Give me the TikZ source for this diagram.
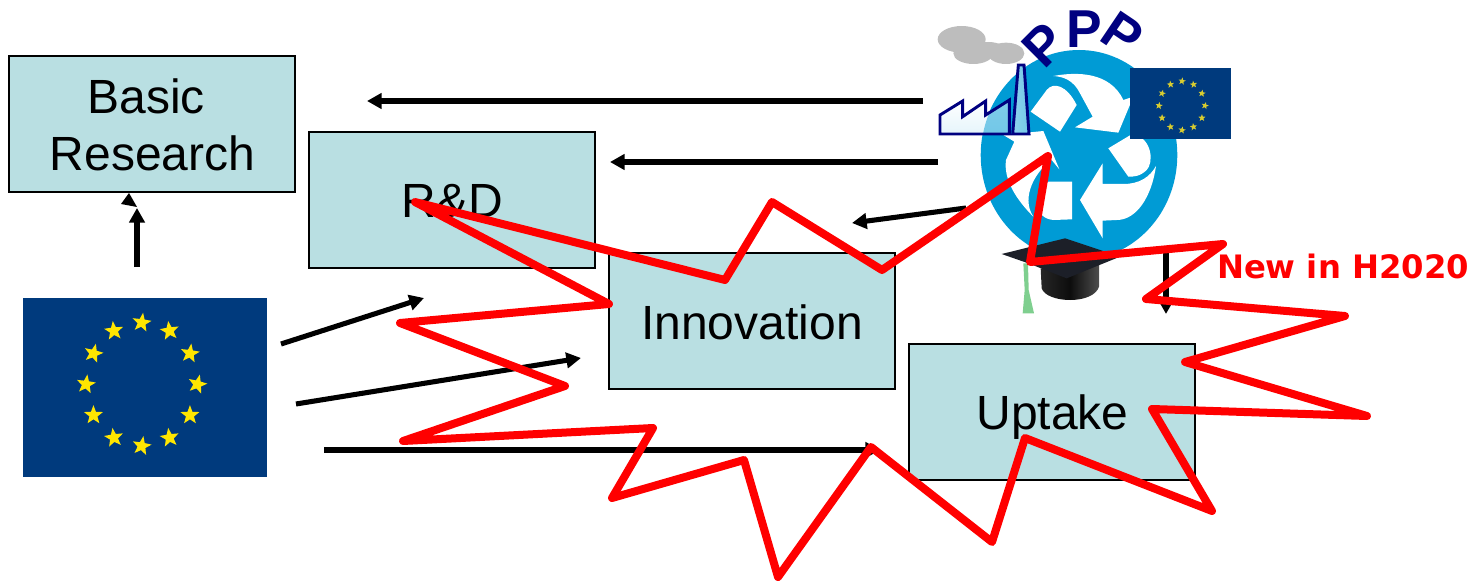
\documentclass[tikz,border=0pt]{standalone}
\usepackage{fontspec}
\setmainfont{Liberation Sans}
\newfontfamily\dejabold[Scale=1]{DejaVu Sans}
\usetikzlibrary{arrows.meta}
\definecolor{boxfill}{HTML}{B9DFE2}
\definecolor{eublue}{HTML}{003A7D}
\definecolor{eustar}{HTML}{FFE600}
\definecolor{eustardim}{HTML}{D8CC30}
\definecolor{recycle}{HTML}{009BD5}
\definecolor{pppnavy}{HTML}{000080}
\definecolor{cloudgrey}{HTML}{BDBDBD}
\definecolor{tassel}{HTML}{7FCF8F}
\definecolor{capdark}{HTML}{1C1F28}
\tikzset{
  x=0.75pt,y=-0.75pt,
  stagebox/.style={draw=black,line width=1.5pt,fill=boxfill,minimum width=214.5pt,minimum height=102pt,inner sep=0pt},
  stagetext/.style={anchor=base,inner sep=0pt,font=\fontsize{36}{36}\selectfont},
  flow/.style={line width=3.8pt,-{Triangle[length=11pt,width=11.5pt]}},
  starburst/.style={draw=red,line width=6pt,line join=round,line cap=round},
  pppletter/.style={text=pppnavy,inner sep=0pt,font=\fontsize{40}{40}\selectfont\bfseries},
}
\newcommand{\eustarat}[5]{% x y radius rotation colour
  \fill[#5] ({#1+#3*sin(#4)},{#2-#3*cos(#4)})
   -- ({#1+0.42*#3*sin(#4+36)},{#2-0.42*#3*cos(#4+36)})
   -- ({#1+#3*sin(#4+72)},{#2-#3*cos(#4+72)})
   -- ({#1+0.42*#3*sin(#4+108)},{#2-0.42*#3*cos(#4+108)})
   -- ({#1+#3*sin(#4+144)},{#2-#3*cos(#4+144)})
   -- ({#1+0.42*#3*sin(#4+180)},{#2-0.42*#3*cos(#4+180)})
   -- ({#1+#3*sin(#4+216)},{#2-#3*cos(#4+216)})
   -- ({#1+0.42*#3*sin(#4+252)},{#2-0.42*#3*cos(#4+252)})
   -- ({#1+#3*sin(#4+288)},{#2-#3*cos(#4+288)})
   -- ({#1+0.42*#3*sin(#4+324)},{#2-0.42*#3*cos(#4+324)}) -- cycle;}
\begin{document}
\begin{tikzpicture}
\useasboundingbox (0,0) rectangle (1484,581);
% boxes
\node[stagebox] (basic) at (152,124) {};
\node[stagebox] (rd) at (452,200) {};
\node[stagebox] (innov) at (752,321) {};
\node[stagebox] (uptake) at (1052,412) {};
\node[stagetext] (basictext) at (146,114) {Basic};
\node[stagetext] (researchtext) at (152.5,171) {Research};
\node[stagetext] (rdtext) at (452.5,217.5) {R\&D};
\node[stagetext] (innovtext) at (752,339) {Innovation};
\node[stagetext] (uptaketext) at (1052.5,429.5) {Uptake};
% large flag
\node[fill=eublue,minimum width=183pt,minimum height=134.25pt,inner sep=0pt] (flagbig) at (145,387.5) {};
\foreach \a/\r in {0/8,30/-8,60/8,90/14,120/0,150/-8,180/10,210/-8,240/0,270/8,300/14,330/-6}
  \eustarat{141.7+55.7*sin(\a)}{384.3-61.7*cos(\a)}{10}{\r}{eustar};
% recycle symbol
\fill[recycle] (1079,155) ellipse (98.3 and 105);
\begin{scope}[shift={(920,0)},x=0.25pt,y=-0.25pt]
\fill[white] (332,335) -- (380,270) .. controls (400,245) and (440,255) .. (470,315) -- (420,395) -- cycle;
\fill[white] (400,228) .. controls (470,215) and (570,215) .. (610,300) -- (640,290) -- (595,398) -- (465,382) -- (518,350) -- (480,280) .. controls (460,240) and (430,230) .. (400,228) -- cycle;
\fill[white] (456,545) -- (456,658) -- (400,660) .. controls (345,655) and (330,590) .. (385,545) -- cycle;
\fill[white] (250,405) -- (370,393) -- (418,508) -- (395,480) .. controls (350,510) and (300,590) .. (340,650) .. controls (290,600) and (250,540) .. (258,480) -- (283,425) -- cycle;
\fill[white] (565,445) -- (640,400) .. controls (700,420) and (700,490) .. (680,510) .. controls (660,530) and (640,530) .. (625,530) -- cycle;
\fill[white] (548,490) -- (548,552) -- (610,552) .. controls (660,552) and (690,530) .. (708,498) .. controls (695,590) and (650,660) .. (590,660) -- (548,662) -- (548,715) -- (480,600) -- cycle;
\end{scope}
% small flag
\node[fill=eublue,minimum width=75.75pt,minimum height=53.25pt,inner sep=0pt] (flagsmall) at (1180.5,103.5) {};
\foreach \a/\r in {0/8,30/-8,60/8,90/14,120/0,150/-8,180/10,210/-8,240/0,270/8,300/14,330/-6}
  \eustarat{1182+23*sin(\a)}{105.7-24.5*cos(\a)}{3.8}{\r}{eustardim};
% factory and clouds
\begin{scope}[shift={(920,0)},x=0.25pt,y=-0.25pt]
\fill[cloudgrey] (125,118) ellipse (72 and 40);
\fill[cloudgrey] (160,160) ellipse (60 and 32);
\fill[cloudgrey] (205,150) ellipse (50 and 24);
\fill[cloudgrey] (258,160) ellipse (55 and 32);
\shade[top color=white,bottom color=recycle!10!white]
  (60,402) -- (60,345) -- (128,303) -- (128,350) -- (197,303) -- (197,345) -- (268,300) -- (268,402) -- cycle;
\begin{scope}
\clip (60,402) -- (60,345) -- (128,303) -- (128,350) -- (197,303) -- (197,345) -- (268,300) -- (268,402) -- cycle;
\fill[recycle,opacity=.5] (478,465) ellipse (295 and 315);
\end{scope}
\draw[pppnavy,line width=2.2pt,line join=miter]
  (60,402) -- (60,345) -- (128,303) -- (128,350) -- (197,303) -- (197,345) -- (268,300) -- (268,402) -- cycle;
\shade[left color=recycle!45,right color=recycle!55,draw=pppnavy,line width=2.2pt]
  (278,402) -- (295,195) -- (312,195) -- (327,402) -- cycle;
% PPP
\node[pppletter,rotate=45] (p1) at (372,135) {P};
\node[pppletter] (p2) at (492,86) {P};
\node[pppletter,rotate=-34] (p3) at (608,104) {P};
% mortarboard
\shade[left color=black!85,right color=black!70,middle color=black!95] (362,805) -- (365,865) .. controls (380,910) and (520,915) .. (537,860) -- (537,795) -- cycle;
\fill[tassel] (310,790) -- (324,790) -- (326,870) -- (342,940) -- (308,940) -- (314,870) -- cycle;
\fill[capdark] (245,762) -- (435,715) -- (600,770) -- (440,835) -- (325,790) -- cycle;
\end{scope}
% arrows
\coordinate (a1s) at (923,101); \coordinate (a1e) at (367,101);
\coordinate (a2s) at (938,162); \coordinate (a2e) at (610,162);
\coordinate (a3s) at (966,208); \coordinate (a3e) at (852,223);
\coordinate (a4s) at (1166,250); \coordinate (a4e) at (1166,314);
\coordinate (a5s) at (137,267); \coordinate (a5e) at (137,208);
\coordinate (a6s) at (281,344); \coordinate (a6e) at (424,298);
\coordinate (a7s) at (296,404); \coordinate (a7e) at (581,358);
\coordinate (a8s) at (324,450); \coordinate (a8e) at (880,450);
\foreach \s/\e in {a1s/a1e,a2s/a2e,a3s/a3e,a4s/a4e,a5s/a5e,a6s/a6e,a7s/a7e,a8s/a8e}
  \draw[flow] (\s) -- (\e);
\fill[black] (129,193) -- (121,204) -- (137,207) -- cycle;
% starburst
\draw[starburst] (415,202) -- (725,280) -- (772,202) -- (882,270) -- (1048,156) -- (1030,262) -- (1223,244) -- (1146,299) -- (1345,316) -- (1185,362) -- (1367,416) -- (1152,409) -- (1212,511) -- (1025,438) -- (992,542) -- (871,447) -- (778,577) -- (744,460) -- (612,498) -- (653,428) -- (403,441) -- (565,386) -- (400,323) -- (609,304) -- cycle;
\node[text=red,inner sep=0pt,font=\dejabold\bfseries\fontsize{24.2}{24}\selectfont] (newlabel) at (1343,266) {New in H2020};
\end{tikzpicture}
\end{document}
